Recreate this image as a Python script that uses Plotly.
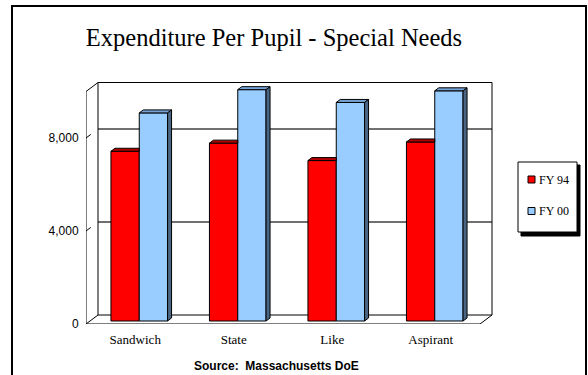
import plotly.graph_objects as go

# ---- data ----
categories = ["Sandwich", "State", "Like", "Aspirant"]
series_names = ["FY 94", "FY 00"]
fy94 = [7300, 7650, 6900, 7700]
fy00 = [8950, 9950, 9400, 9900]
y_ticks = [0, 4000, 8000]
grid_vals = [4000, 8000]

# ---- geometry / style ----
W, H = 588, 375
PL, PR, PT, PB = 86, 500, 80, 324          # plot area in pixels
PXX = 98.5                                  # px per category unit
PXY = 93 / 4000                             # px per value unit
XR = [-0.5, -0.5 + (PR - PL) / PXX]
YR = [0, (PB - PT) / PXY]
DX = 12 / PXX                               # depth offset (x units)
DY = 9 / PXY                                # depth offset (value units)
WALL_TOP = 10000
BW = 28.3 / PXX                             # bar width
bdx, bdy = DX / 3, DY / 3                   # bar front offset / bar depth

RED, RED_TOP = "#FF0000", "#B00000"
BLUE, BLUE_TOP, BLUE_SIDE = "#99CCFF", "#76A3D6", "#4A6583"
SERIF = "Liberation Serif"
SANS = "Liberation Sans"


def px_x(p):
    return (p - PL) / (PR - PL)


def px_y(p):
    return (PB - p) / (PB - PT)


fig = go.Figure()

# front faces as bars
fig.add_trace(go.Bar(x=list(range(len(categories))), y=fy94, base=bdy, width=BW,
                     offset=-BW + bdx, marker=dict(color=RED, line=dict(color="black", width=1)),
                     name=series_names[0], showlegend=False))
fig.add_trace(go.Bar(x=list(range(len(categories))), y=fy00, base=bdy, width=BW,
                     offset=bdx, marker=dict(color=BLUE, line=dict(color="black", width=1)),
                     name=series_names[1], showlegend=False))

# 3D top / side faces
for i, (r, b) in enumerate(zip(fy94, fy00)):
    # red top (right part hidden behind taller blue bar)
    xl, xr = i - BW + bdx, i + bdx
    t = r + bdy
    fig.add_trace(go.Scatter(x=[xl, xl + bdx, xr, xr, xl], y=[t, t + bdy, t + bdy, t, t],
                             fill="toself", fillcolor=RED_TOP, mode="lines",
                             line=dict(color="black", width=1), hoverinfo="skip", showlegend=False))
    # blue top
    xl2, xr2 = i + bdx, i + bdx + BW
    t2 = b + bdy
    fig.add_trace(go.Scatter(x=[xl2, xl2 + bdx, xr2 + bdx, xr2, xl2],
                             y=[t2, t2 + bdy, t2 + bdy, t2, t2],
                             fill="toself", fillcolor=BLUE_TOP, mode="lines",
                             line=dict(color="black", width=1), hoverinfo="skip", showlegend=False))
    # blue side
    fig.add_trace(go.Scatter(x=[xr2, xr2 + bdx, xr2 + bdx, xr2, xr2],
                             y=[bdy, 2 * bdy, t2 + bdy, t2, bdy],
                             fill="toself", fillcolor=BLUE_SIDE, mode="lines",
                             line=dict(color="black", width=1), hoverinfo="skip", showlegend=False))

shapes = []


def seg(x0, y0, x1, y1, color="black", width=1, layer="below"):
    shapes.append(dict(type="line", xref="x", yref="y", x0=x0, y0=y0, x1=x1, y1=y1,
                       line=dict(color=color, width=width), layer=layer))


x0, x1 = -0.5, 3.5
# back wall gridlines
for g in grid_vals:
    seg(x0 + DX, g + DY, x1 + DX, g + DY, color="#404040", width=1.5)
# back wall
seg(x0 + DX, DY, x0 + DX, WALL_TOP + DY)
seg(x1 + DX, DY, x1 + DX, WALL_TOP + DY)
seg(x0 + DX, WALL_TOP + DY, x1 + DX, WALL_TOP + DY)
seg(x0 + DX, DY, x1 + DX, DY)
# left wall
seg(x0, 0, x0, WALL_TOP)
seg(x0, WALL_TOP, x0 + DX, WALL_TOP + DY)
seg(x0, 0, x0 + DX, DY)
# floor
seg(x0, 0, x1, 0, layer="above")
seg(x1, 0, x1 + DX, DY)
# value ticks
for g in y_ticks[1:]:
    seg(x0, g, x0 + DX * 0.4, g + DY * 0.4)
# category ticks
for k in range(1, len(categories)):
    seg(k - 0.5, 0, k - 0.5, -4 / PXY, layer="above")

# outer border
shapes.append(dict(type="rect", xref="paper", yref="paper",
                   x0=px_x(12), x1=px_x(586), y0=px_y(6), y1=px_y(400),
                   line=dict(color="black", width=2), fillcolor="rgba(0,0,0,0)", layer="above"))

# legend box with shadow
shapes.append(dict(type="rect", xref="paper", yref="paper",
                   x0=px_x(521), x1=px_x(580), y0=px_y(165), y1=px_y(236),
                   line=dict(color="black", width=1), fillcolor="black", layer="above"))
shapes.append(dict(type="rect", xref="paper", yref="paper",
                   x0=px_x(518), x1=px_x(577), y0=px_y(162), y1=px_y(232),
                   line=dict(color="black", width=1), fillcolor="white", layer="above"))
annotations = []
for name, col, cy in zip(series_names, [RED, BLUE], [179.5, 211]):
    shapes.append(dict(type="rect", xref="paper", yref="paper",
                       x0=px_x(528), x1=px_x(535), y0=px_y(cy - 3.5), y1=px_y(cy + 3.5),
                       line=dict(color="black", width=1), fillcolor=col, layer="above"))
    annotations.append(dict(xref="paper", yref="paper", x=px_x(537), y=px_y(cy),
                            xanchor="left", yanchor="middle", text=name, showarrow=False,
                            font=dict(family=SERIF, size=12, color="black")))

annotations.append(dict(xref="paper", yref="paper", x=px_x(276), y=px_y(366),
                        xanchor="center", yanchor="middle",
                        text="<b>Source:  Massachusetts DoE</b>",
                        showarrow=False, font=dict(family=SANS, size=12, color="black")))

fig.update_layout(
    width=W, height=H,
    margin=dict(l=PL, r=W - PR, t=PT, b=H - PB, pad=0),
    paper_bgcolor="white", plot_bgcolor="white",
    title=dict(text="Expenditure Per Pupil - Special Needs", xref="container", yref="container",
               x=274 / W, y=1 - 37 / H, xanchor="center", yanchor="middle",
               font=dict(family=SERIF, size=24.5, color="black")),
    xaxis=dict(range=XR, tickvals=list(range(len(categories))), ticktext=categories,
               showgrid=False, zeroline=False, showline=False, ticks="outside", ticklen=3,
               tickcolor="rgba(0,0,0,0)", tickfont=dict(family=SERIF, size=13, color="black"),
               fixedrange=True),
    yaxis=dict(range=YR, tickvals=y_ticks, tickformat=",", showgrid=False, zeroline=False,
               showline=False, ticks="outside", ticklen=4, tickcolor="rgba(0,0,0,0)",
               tickfont=dict(family=SANS, size=12, color="black"), fixedrange=True),
    shapes=shapes, annotations=annotations, showlegend=False,
)

fig.write_html("out.html")
